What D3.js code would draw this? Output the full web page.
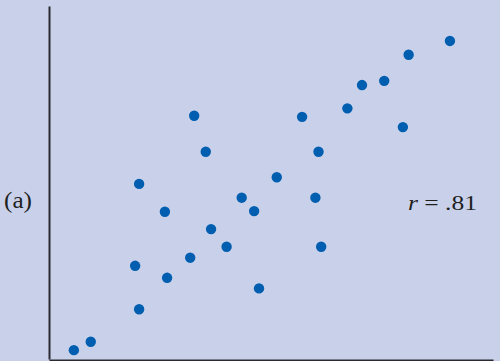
<!DOCTYPE html>
<html>
<head>
<meta charset="utf-8">
<script src="https://cdn.jsdelivr.net/npm/d3@7"></script>
<style>
  html, body { margin: 0; padding: 0; background: #c9d1ea; }
  svg { display: block; }
</style>
</head>
<body>
<svg id="chart" width="500" height="361"></svg>
<script>
// Scatter data (arbitrary units, 0–100 on both axes)
const xValues = [5.6, 9.4, 20.3, 19.4, 26.6, 31.8, 20.3, 26.1, 36.5, 40.0, 43.4, 46.2, 47.3,
                 51.3, 32.7, 35.3, 57.0, 60.7, 60.0, 61.3, 67.2, 70.5, 75.5, 81.0, 79.7, 90.3];
const yValues = [2.5, 4.9, 14.1, 26.4, 23.0, 28.7, 49.6, 41.7, 36.8, 31.8, 45.7, 41.9, 20.0,
                 51.5, 68.9, 58.7, 68.6, 58.7, 45.7, 31.8, 71.0, 77.6, 78.8, 86.2, 65.7, 90.1];
const panelLabel = "(a)";
const corrLabel = ".81";

const svg = d3.select("#chart");
const W = 500, H = 361;

svg.append("rect").attr("width", W).attr("height", H).attr("fill", "#c9d1ea");

const x = d3.scaleLinear().domain([0, 100]).range([49, 493]);
const y = d3.scaleLinear().domain([0, 100]).range([359, 6]);

// Axes: plain lines without ticks
const xAxis = d3.axisBottom(x).tickValues([]).tickSizeOuter(0);
const yAxis = d3.axisLeft(y).tickValues([]).tickSizeOuter(0);

svg.append("g")
  .attr("transform", `translate(0,${y(0) + 1})`)
  .call(xAxis)
  .call(g => g.select(".domain").attr("stroke", "#2a2a30").attr("stroke-width", 2));

svg.append("g")
  .attr("transform", `translate(${x(0)},0)`)
  .call(yAxis)
  .call(g => g.select(".domain").attr("stroke", "#2a2a30").attr("stroke-width", 2));

// Points
const pts = xValues.map((v, i) => ({ x: v, y: yValues[i] }));
svg.append("g")
  .selectAll("circle")
  .data(pts)
  .join("circle")
  .attr("cx", d => x(d.x))
  .attr("cy", d => y(d.y))
  .attr("r", 5.2)
  .attr("fill", "#005eb0");

// Labels (serif, slightly widened)
const serif = "'Liberation Serif', 'Times New Roman', serif";

svg.append("text")
  .attr("x", 4)
  .attr("y", 208)
  .attr("font-family", serif)
  .attr("font-size", 23)
  .attr("fill", "#1f1f1f")
  .attr("textLength", 28)
  .attr("lengthAdjust", "spacingAndGlyphs")
  .text(panelLabel);

const r = svg.append("text")
  .attr("x", 408)
  .attr("y", 209.5)
  .attr("font-family", serif)
  .attr("font-size", 21.5)
  .attr("fill", "#1f1f1f")
  .attr("textLength", 69)
  .attr("lengthAdjust", "spacingAndGlyphs");
r.append("tspan").attr("font-style", "italic").text("r");
r.append("tspan").text(" = " + corrLabel);
</script>
</body>
</html>
